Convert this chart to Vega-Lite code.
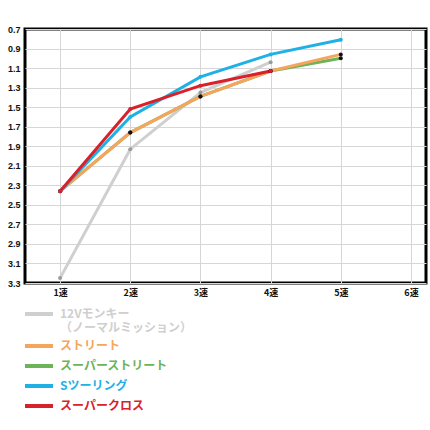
{
  "$schema": "https://vega.github.io/schema/vega-lite/v6.json",
  "autosize": {"type": "none"},
  "width": 401,
  "height": 254,
  "padding": {"left": 25, "top": 29, "right": 4, "bottom": 147},
  "background": "white",
  "config": {
    "view": {"stroke": "#000000", "strokeWidth": 3},
    "font": "Noto Sans CJK JP"
  },
  "data": {
    "values": [
      {"series": "12Vモンキー", "gear": 1, "ratio": 3.25},
      {"series": "12Vモンキー", "gear": 2, "ratio": 1.93},
      {"series": "12Vモンキー", "gear": 3, "ratio": 1.35},
      {"series": "12Vモンキー", "gear": 4, "ratio": 1.04},
      {"series": "スーパーストリート", "gear": 1, "ratio": 2.36},
      {"series": "スーパーストリート", "gear": 2, "ratio": 1.76},
      {"series": "スーパーストリート", "gear": 3, "ratio": 1.39},
      {"series": "スーパーストリート", "gear": 4, "ratio": 1.13},
      {"series": "スーパーストリート", "gear": 5, "ratio": 1.0},
      {"series": "ストリート", "gear": 1, "ratio": 2.36},
      {"series": "ストリート", "gear": 2, "ratio": 1.76},
      {"series": "ストリート", "gear": 3, "ratio": 1.39},
      {"series": "ストリート", "gear": 4, "ratio": 1.13},
      {"series": "ストリート", "gear": 5, "ratio": 0.96},
      {"series": "Sツーリング", "gear": 1, "ratio": 2.36},
      {"series": "Sツーリング", "gear": 2, "ratio": 1.6},
      {"series": "Sツーリング", "gear": 3, "ratio": 1.19},
      {"series": "Sツーリング", "gear": 4, "ratio": 0.96},
      {"series": "Sツーリング", "gear": 5, "ratio": 0.81},
      {"series": "スーパークロス", "gear": 1, "ratio": 2.36},
      {"series": "スーパークロス", "gear": 2, "ratio": 1.52},
      {"series": "スーパークロス", "gear": 3, "ratio": 1.28},
      {"series": "スーパークロス", "gear": 4, "ratio": 1.13}
    ]
  },
  "encoding": {
    "x": {
      "field": "gear",
      "type": "quantitative",
      "scale": {"domain": [0.5, 6.214], "nice": false, "zero": false},
      "axis": {
        "orient": "bottom",
        "title": null,
        "values": [1, 2, 3, 4, 5, 6],
        "labelExpr": "datum.value + '速'",
        "domain": false,
        "ticks": false,
        "grid": true,
        "gridColor": "#d6d6d6",
        "gridWidth": 1,
        "labelFontSize": 9,
        "labelFontWeight": "bold",
        "labelColor": "#111111",
        "labelPadding": 5,
        "labelFont": "Noto Sans CJK JP"
      }
    },
    "y": {
      "field": "ratio",
      "type": "quantitative",
      "scale": {"domain": [0.7, 3.3], "reverse": true, "nice": false, "zero": false},
      "axis": {
        "orient": "left",
        "title": null,
        "values": [0.7, 0.9, 1.1, 1.3, 1.5, 1.7, 1.9, 2.1, 2.3, 2.5, 2.7, 2.9, 3.1, 3.3],
        "format": ".1f",
        "domain": false,
        "ticks": false,
        "grid": true,
        "gridColor": "#d6d6d6",
        "gridWidth": 1,
        "labelFontSize": 9,
        "labelFontWeight": "bold",
        "labelColor": "#111111",
        "labelPadding": 5,
        "labelFont": "Liberation Sans"
      }
    }
  },
  "layer": [
    {
      "mark": {"type": "line", "strokeWidth": 3},
      "encoding": {
        "color": {
          "field": "series",
          "type": "nominal",
          "scale": {
            "domain": ["12Vモンキー", "ストリート", "スーパーストリート", "Sツーリング", "スーパークロス"],
            "range": ["#cfcfcf", "#f5a55c", "#6cb35a", "#1fb0e6", "#d8212b"]
          },
          "legend": {
            "title": null,
            "orient": "none",
            "legendX": 5,
            "legendY": 276,
            "padding": 0,
            "direction": "vertical",
            "symbolType": "M-2,0H2",
            "symbolSize": 196,
            "symbolStrokeWidth": 4,
            "labelFontSize": 12,
            "labelFontWeight": "bold",
            "labelFont": "Noto Sans CJK JP",
            "labelLimit": 300,
            "labelOffset": 12,
            "rowPadding": 3,
            "labelExpr": "datum.label == '12Vモンキー' ? '12Vモンキー\\n（ノーマルミッション）' : datum.label",
            "encode": {
              "labels": {
                "enter": {"lineBreak": {"value": "\n"}, "lineHeight": {"value": 14}},
                "update": {"fill": {"scale": "color", "field": "value"}, "lineBreak": {"value": "\n"}, "lineHeight": {"value": 14}}
              }
            }
          }
        }
      }
    },
    {
      "mark": {"type": "point", "filled": true, "size": 16, "opacity": 1, "strokeWidth": 0},
      "encoding": {
        "fill": {
          "field": "series",
          "type": "nominal",
          "scale": {
            "domain": ["12Vモンキー", "ストリート", "スーパーストリート", "Sツーリング", "スーパークロス"],
            "range": ["#9a9a9a", "#111111", "#111111", "#1fb0e6", "#d8212b"]
          },
          "legend": null
        }
      }
    }
  ]
}
